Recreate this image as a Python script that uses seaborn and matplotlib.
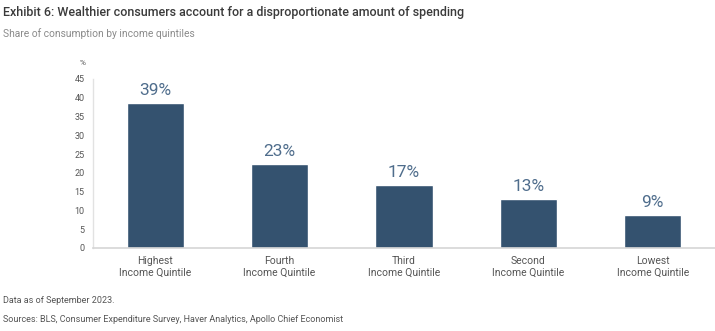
import matplotlib
matplotlib.use("Agg")
import matplotlib.pyplot as plt
import seaborn as sns
import pandas as pd

categories = ["Highest\nIncome Quintile", "Fourth\nIncome Quintile", "Third\nIncome Quintile",
              "Second\nIncome Quintile", "Lowest\nIncome Quintile"]
values = [38.6, 22.4, 16.9, 13.0, 8.8]
labels = ["39%", "23%", "17%", "13%", "9%"]
yticks = [0, 5, 10, 15, 20, 25, 30, 35, 40, 45]

sns.set_theme(style="white")
plt.rcParams['font.family'] = ['Roboto', 'DejaVu Sans']

df = pd.DataFrame({"cat": categories, "val": values})

fig = plt.figure(figsize=(7.15, 3.31), dpi=100)
ax = fig.add_axes([0.130, 0.2508, 0.87, 0.5106])
sns.barplot(data=df, x="cat", y="val", color="#34526f", width=0.46, ax=ax, saturation=1)

ax.set_xlim(-0.5, 4.5)
ax.set_ylim(0, 45)
ax.set_yticks(yticks)
ax.set_yticklabels([str(t) for t in yticks], fontsize=6.5, color="#555555")
ax.tick_params(axis="y", length=0, pad=6)
ax.tick_params(axis="x", length=0, pad=6, labelsize=7.5, labelcolor="#555555")
ax.set_xlabel("")
ax.set_ylabel("")
for s in ["top", "right"]:
    ax.spines[s].set_visible(False)
ax.spines["left"].set_color("#e2e2e2")
ax.spines["bottom"].set_color("#d5d5d5")
ax.spines["left"].set_linewidth(1)
ax.spines["bottom"].set_linewidth(1.2)

for i, (v, l) in enumerate(zip(values, labels)):
    ax.text(i, v + 1.3, l, ha="center", va="bottom", fontsize=12.5, color="#4f6d8c")

fig.text(0.115, 0.805, "%", fontsize=6, color="#555555", ha="center")

fig.text(0.004, 0.963, "Exhibit 6: Wealthier consumers account for a disproportionate amount of spending",
         fontsize=9, fontweight="medium", color="#3a3a3a", va="center")
fig.text(0.004, 0.898, "Share of consumption by income quintiles",
         fontsize=7.4, color="#8a8a8a", va="center")
fig.text(0.004, 0.093, "Data as of September 2023.", fontsize=6.5, color="#555555", va="center")
fig.text(0.004, 0.036, "Sources: BLS, Consumer Expenditure Survey, Haver Analytics, Apollo Chief Economist",
         fontsize=6.5, color="#555555", va="center")

fig.savefig("out.png", dpi=100)
